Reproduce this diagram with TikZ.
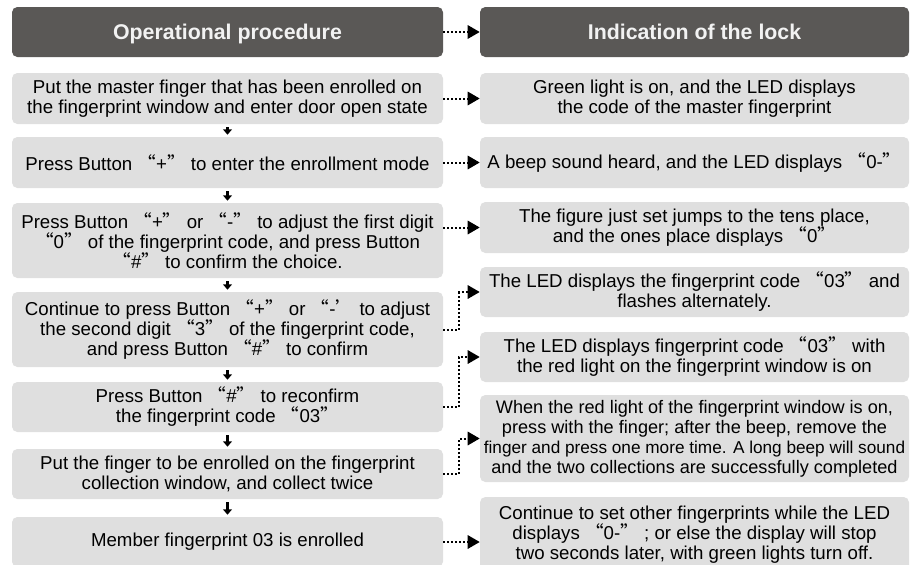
\documentclass[tikz,border=0pt]{standalone}
\usepackage{fontspec}
\setmainfont{Liberation Sans}
\newfontfamily\cjk{Noto Sans CJK SC}
\usepackage{tikz}
\usetikzlibrary{positioning,arrows.meta}
\definecolor{headgray}{RGB}{90,88,86}
\definecolor{boxgray}{RGB}{223,223,223}
\newcommand{\qt}[1]{{\cjk “}#1{\cjk ”}}

\begin{document}
\begin{tikzpicture}[x=0.75pt,y=-0.75pt,
        head/.style={rectangle, rounded corners=4pt, fill=headgray, text=white!95!black, inner sep=0pt, text depth=0pt,
          minimum width=323.25pt, minimum height=37.5pt, font=\fontsize{16}{18}\selectfont\bfseries},
        proc/.style={rectangle, rounded corners=4pt, fill=boxgray, inner sep=0pt, align=center,
          minimum width=323.25pt, font=\fontsize{14}{15}\selectfont},
        ind/.style={proc, minimum width=321.75pt},
        dotarrow/.style={-{Triangle[length=9pt,width=10pt]}, line width=1.5pt, dash pattern=on 1.5pt off 1.5pt},
        down/.style={-{Triangle[length=4pt,width=6.5pt]}, line width=2.2pt, shorten <=2.2pt, shorten >=1.5pt}
      ]
        \useasboundingbox (0,0) rectangle (910,564);
        % column heads
        \node[head] at (227.5,32) (h1) {Operational procedure};
        \node[head, minimum width=321.75pt] at (694.5,32) (h2) {Indication of the lock};
        % procedure steps
        \node[proc, minimum height=38.25pt] at (227.5,98.5) (p1) {Put the master finger that has been enrolled on\\the fingerprint window and enter door open state};
        \node[proc, minimum height=38.25pt] at (227.5,162.5) (p2) {Press Button \qt{+} to enter the enrollment mode};
        \node[proc, minimum height=56.25pt] at (227.5,240.5) (p3) {Press Button \qt{+} or \qt{-} to adjust the first digit\\\qt{0} of the fingerprint code, and press Button\\\qt{\#} to confirm the choice.};
        \node[proc, minimum height=56.25pt] at (227.5,329.5) (p4) {Continue to press Button \qt{+} or {\cjk “}-{\cjk ’} to adjust\\the second digit \qt{3} of the fingerprint code,\\and press Button \qt{\#} to confirm};
        \node[proc, minimum height=37.5pt] at (227.5,407) (p5) {Press Button \qt{\#} to reconfirm\\the fingerprint code \qt{03}};
        \node[proc, minimum height=37.5pt] at (227.5,474) (p6) {Put the finger to be enrolled on the fingerprint\\collection window, and collect twice};
        \node[proc, minimum height=37.5pt] at (227.5,542) (p7) {Member fingerprint 03 is enrolled};
        % lock indications
        \node[ind, minimum height=38.25pt] at (694.5,98.5) (i1) {Green light is on, and the LED displays\\the code of the master fingerprint};
        \node[ind, minimum height=38.25pt] at (694.5,162.5) (i2) {A beep sound heard, and the LED displays \qt{0-}};
        \node[ind, minimum height=38.25pt] at (694.5,227.5) (i3) {The figure just set jumps to the tens place,\\and the ones place displays \qt{0}};
        \node[ind, minimum height=37.5pt] at (694.5,292) (i4) {The LED displays the fingerprint code \qt{03} and\\flashes alternately.};
        \node[ind, minimum height=37.5pt] at (694.5,357) (i5) {The LED displays fingerprint code \qt{03} with\\the red light on the fingerprint window is on};
        \node[ind, minimum height=65.25pt, font=\fontsize{13.6}{15}\selectfont] at (694.5,438.5) (i6) {When the red light of the fingerprint window is on,\\press with the finger; after the beep, remove the\\{\fontsize{12.9}{15}\selectfont finger and press one more time. A long beep will sound}\\and the two collections are successfully completed};
        \node[ind, minimum height=56.25pt] at (694.5,534.5) (i7) {Continue to set other fingerprints while the LED\\displays \qt{0-} ; or else the display will stop\\two seconds later, with green lights turn off.};
        \foreach \a/\b in {p1/p2,p2/p3,p3/p4,p4/p5,p5/p6,p6/p7}
          \draw[down] (\a) -- (\b);
        \draw[dotarrow] (h1) -- (h2);
        \draw[dotarrow] (p1) -- (i1);
        \draw[dotarrow] (p2) -- (i2);
        \draw[dotarrow] (i3.west -| p3.east) -- (i3.west);
        \draw[dotarrow] (p4.east) -- ++(16,0) |- (i4.west);
        \draw[dotarrow] (p5.east) -- ++(16,0) |- (i5.west);
        \draw[dotarrow] (p6.east) -- ++(16,0) |- (i6.west);
        \draw[dotarrow] (p7.east) -- (p7.east -| i7.west);
      \end{tikzpicture}
\end{document}
